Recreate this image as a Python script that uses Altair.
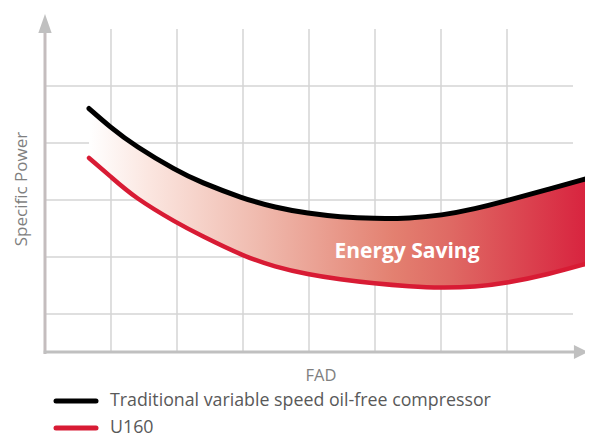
import altair as alt
import pandas as pd

# ---- data ----
fad = [0.667, 0.985, 1.364, 2.0, 2.348, 3.0, 3.485, 3.985, 4.47, 4.985, 5.53, 6.0, 6.515, 7.0, 7.621, 8.242]
traditional = [4.605, 4.281, 3.947, 3.509, 3.316, 3.026, 2.868, 2.763, 2.702, 2.672, 2.679, 2.728, 2.842, 2.991, 3.184, 3.386]
u160 = [3.737, 3.421, 3.035, 2.596, 2.386, 2.018, 1.825, 1.693, 1.605, 1.535, 1.482, 1.456, 1.474, 1.544, 1.693, 1.895]
series_names = ["Traditional variable speed oil-free compressor", "U160"]
series_colors = ["#000000", "#d81b34"]

grid_x = [1, 2, 3, 4, 5, 6, 7]
grid_y = [1, 2, 3, 4, 5]
x_title = "FAD"
y_title = "Specific Power"
annotation = "Energy Saving"
annotation_pos = (5.485, 1.98)

FONT = "Open Sans"
XS = alt.Scale(domain=[-0.5606, 8.1818], nice=False, zero=False)
YS = alt.Scale(domain=[-1.193, 6.3684], nice=False, zero=False)


def X(f="x"):
    return alt.X(f + ":Q", scale=XS, axis=None)


def Y(f="y"):
    return alt.Y(f + ":Q", scale=YS, axis=None)


# grid
vgrid = alt.Chart(pd.DataFrame({"x": grid_x, "y": 1 / 3, "y2": 6.0})).mark_rule(
    color="#d4d4d4", strokeWidth=1.5
).encode(x=X(), y=Y(), y2="y2:Q")
hgrid = alt.Chart(pd.DataFrame({"y": grid_y, "x": 0.0, "x2": 8.0})).mark_rule(
    color="#d4d4d4", strokeWidth=1.5
).encode(y=Y(), x=X(), x2="x2:Q")

# axes with arrows
yaxis = alt.Chart(pd.DataFrame({"x": [0.0], "y": [0.30], "y2": [5.95]})).mark_rule(
    color="#c4bdbe", strokeWidth=3
).encode(x=X(), y=Y(), y2="y2:Q")
xaxis = alt.Chart(pd.DataFrame({"y": [1 / 3], "x": [-0.02], "x2": [8.12]})).mark_rule(
    color="#c0c0c0", strokeWidth=3
).encode(y=Y(), x=X(), x2="x2:Q")
up_arrow = alt.Chart(pd.DataFrame({"x": [0.0], "y": [6.096]})).mark_point(
    shape="M0,-1L0.7,1L-0.7,1Z", filled=True, size=361, color="#c0c0c0", opacity=1
).encode(x=X(), y=Y())
right_arrow = alt.Chart(pd.DataFrame({"x": [8.12], "y": [1 / 3]})).mark_point(
    shape="M1,0L-1,1L-1,-1Z", filled=True, size=196, color="#c0c0c0", opacity=1
).encode(x=X(), y=Y())

# saving area
wide = pd.DataFrame({"x": fad, "trad": traditional, "u160": u160})
area = alt.Chart(wide).mark_area(
    interpolate="basis",
    color=alt.Gradient(
        gradient="linear",
        stops=[
            alt.GradientStop(color="#ffffff", offset=0),
            alt.GradientStop(color="#fbe6e0", offset=0.12),
            alt.GradientStop(color="#f0bcb0", offset=0.33),
            alt.GradientStop(color="#e38070", offset=0.61),
            alt.GradientStop(color="#df6a64", offset=0.72),
            alt.GradientStop(color="#d8223e", offset=1),
        ],
        x1=0, x2=1, y1=0, y2=0,
    ),
).encode(x=X(), y=Y("trad"), y2="u160:Q")

long = pd.concat([
    pd.DataFrame({"x": fad, "y": traditional, "s": series_names[0]}),
    pd.DataFrame({"x": fad, "y": u160, "s": series_names[1]}),
])
red_line = alt.Chart(long[long["s"] == series_names[1]]).mark_line(
    interpolate="basis", strokeWidth=4.5, strokeCap="round", color=series_colors[1]
).encode(x=X(), y=Y())
black_line = alt.Chart(long[long["s"] == series_names[0]]).mark_line(
    interpolate="basis", strokeWidth=5, strokeCap="round", color=series_colors[0]
).encode(x=X(), y=Y())

label = alt.Chart(pd.DataFrame({"t": [annotation], "x": [annotation_pos[0]], "y": [annotation_pos[1]]})).mark_text(
    font=FONT, fontWeight="bold", fontSize=21, color="white", align="center", baseline="alphabetic"
).encode(x=X(), y=Y(), text="t:N")

# axis titles
xt = alt.Chart(pd.DataFrame({"t": [x_title]})).mark_text(
    font=FONT, fontSize=16.5, color="#7f7f7f", align="center", baseline="middle"
).encode(x=alt.value(313), y=alt.value(368), text="t:N")
yt = alt.Chart(pd.DataFrame({"t": [y_title]})).mark_text(
    font=FONT, fontSize=17, color="#7f7f7f", align="center", baseline="middle", angle=270
).encode(x=alt.value(14), y=alt.value(181), text="t:N")

# legend
leg = pd.DataFrame({"s": series_names, "yy": [393, 420]})
leg_lines = alt.Chart(leg).mark_rule(strokeWidth=5, strokeCap="round").encode(
    x=alt.value(48), x2=alt.value(88), y=alt.Y("yy:Q", scale=None, axis=None),
    color=alt.Color("s:N", scale=alt.Scale(domain=series_names, range=series_colors), legend=None),
)
leg_text = alt.Chart(leg).mark_text(
    font=FONT, fontSize=17.8, color="#595959", align="left", baseline="middle"
).encode(x=alt.value(102), y=alt.Y("yy:Q", scale=None, axis=None), text="s:N")

chart = alt.layer(
    vgrid, hgrid, yaxis, xaxis, up_arrow, right_arrow, area, red_line, black_line, label,
    xt, yt, leg_lines, leg_text,
).properties(
    width=577, height=431, autosize=alt.AutoSizeParams(type="none"), padding=0
).resolve_scale(y="independent").configure_view(stroke=None)

chart.save("out.html", embed_options={"renderer": "svg", "actions": False})
